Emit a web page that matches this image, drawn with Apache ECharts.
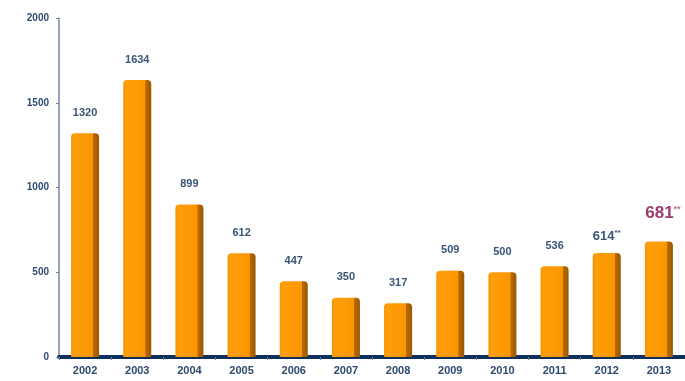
<!DOCTYPE html>
<html>
<head>
<meta charset="utf-8">
<script src="https://cdn.jsdelivr.net/npm/echarts@6/dist/echarts.min.js"></script>
<style>
html, body { margin: 0; padding: 0; background: #fff; }
#chart { width: 685px; height: 381px; }
</style>
</head>
<body>
<div id="chart"></div>
<script>
// 数据
var years = ['2002', '2003', '2004', '2005', '2006', '2007', '2008', '2009', '2010', '2011', '2012', '2013'];
var values = [1320, 1634, 899, 612, 447, 350, 317, 509, 500, 536, 614, 681];
var yTicks = [0, 500, 1000, 1500, 2000];

var myChart = echarts.init(document.getElementById('chart'));

// 柱子颜色：正面橙色，右侧暗色形成立体感
var barColor = new echarts.graphic.LinearGradient(0, 0, 1, 0, [
    { offset: 0, color: '#F79200' },
    { offset: 0.12, color: '#FF9E0A' },
    { offset: 0.78, color: '#FB9600' },
    { offset: 0.8, color: '#B86A00' },
    { offset: 1, color: '#9A5800' }
]);

var barData = values.map(function (v, i) {
    var item = { value: v };
    if (years[i] === '2012') {
        item.label = {
            formatter: '{n|{c}}{s|**}',
            distance: 10,
            rich: {
                n: { fontSize: 13, fontWeight: 'bold', color: '#3A5578' },
                s: { fontSize: 8, fontWeight: 'bold', color: '#3A5578', padding: [0, 0, 6, 0] }
            }
        };
    } else if (years[i] === '2013') {
        item.label = {
            formatter: '{n|{c}}{s|**}',
            distance: 20,
            offset: [4, 0],
            rich: {
                n: { fontSize: 17, fontWeight: 'bold', color: '#9C3A6E' },
                s: { fontSize: 9, fontWeight: 'bold', color: '#C07A9C', padding: [0, 0, 8, 0] }
            }
        };
    }
    return item;
});

var option = {
    animation: false,
    grid: {
        left: 59,
        right: 0,
        top: 18,
        bottom: 24
    },
    xAxis: {
        type: 'category',
        data: years,
        axisLine: { lineStyle: { color: '#0E2E5C', width: 4 } },
        axisTick: { show: true, alignWithLabel: false, lineStyle: { color: '#5C7AA0' }, length: 3 },
        axisLabel: { color: '#2E4A70', fontWeight: 'bold', fontSize: 11, margin: 8, fontFamily: 'Liberation Sans' }
    },
    yAxis: {
        type: 'value',
        min: yTicks[0],
        max: yTicks[yTicks.length - 1],
        interval: 500,
        axisLine: { show: true, lineStyle: { color: '#6C86A6', width: 1.5 } },
        axisTick: { show: true, inside: false, length: 3, lineStyle: { color: '#6C86A6' } },
        splitLine: { show: false },
        axisLabel: {
            color: '#2E4A70', fontWeight: 'bold', fontSize: 10, margin: 10, fontFamily: 'Liberation Sans',
            formatter: function (v) { return String(v); }
        }
    },
    series: [{
        type: 'bar',
        data: barData,
        barWidth: 28,
        itemStyle: {
            color: barColor,
            borderRadius: [4, 4, 0, 0]
        },
        label: {
            show: true,
            position: 'top',
            distance: 15,
            color: '#3A5578',
            fontWeight: 'bold',
            fontSize: 11,
            fontFamily: 'Liberation Sans'
        }
    }]
};
myChart.setOption(option);
</script>
</body>
</html>
